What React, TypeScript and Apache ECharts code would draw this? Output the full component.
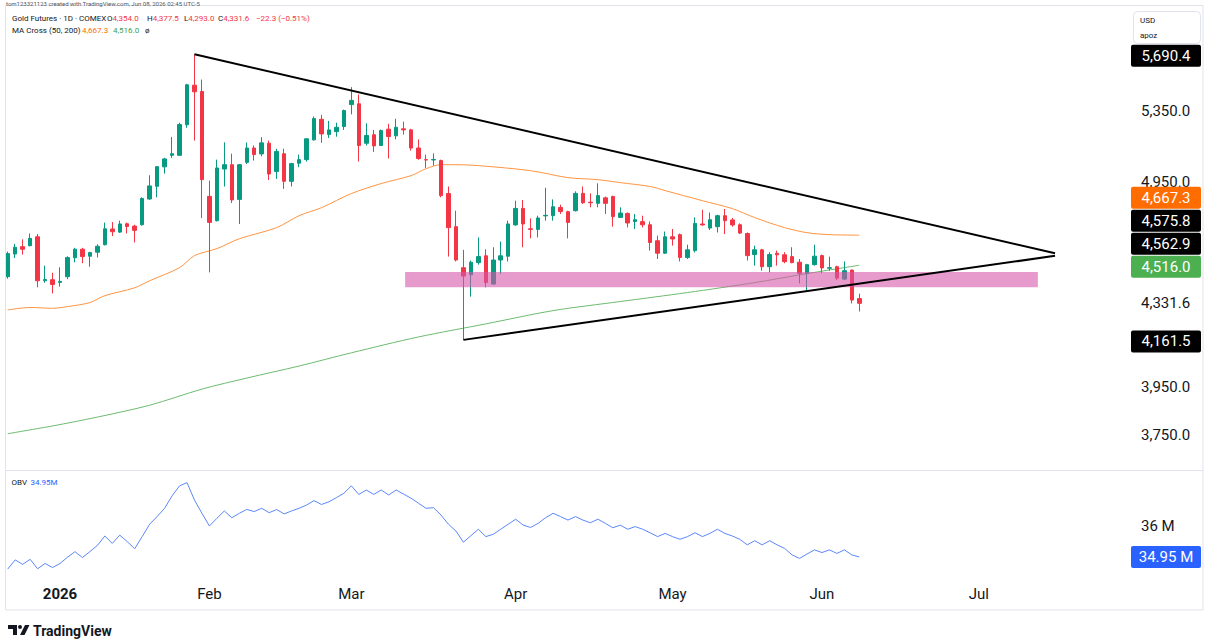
import React, { useEffect, useRef } from "react";
import * as echarts from "echarts";

// ---------------- data ----------------
// bar index 0 = 2025-12-22 ... index 114 = 2026-06-08 (daily trading sessions)
const OPEN = [
  4460, 4572, 4609, 4614, 4659, 4440, 4445, 4432, 4460, 4553,
  4596, 4561, 4581, 4619, 4699, 4683, 4726, 4714, 4721, 4856,
  4924, 5030, 5094, 5094, 5267, 5501, 5463, 4870, 4742, 5018,
  5042, 4854, 5055, 5135, 5102, 5162, 5005, 5103, 4951, 5050,
  5070, 5181, 5299, 5211, 5228, 5257, 5385, 5390, 5162, 5210,
  5149, 5242, 5204, 5244, 5238, 5135, 5070, 5068, 5065, 4885,
  4711, 4504, 4469, 4529, 4563, 4424, 4542, 4561, 4720, 4806,
  4700, 4697, 4767, 4768, 4811, 4789, 4794, 4886, 4839, 4833,
  4862, 4869, 4759, 4780, 4738, 4737, 4721, 4639, 4576, 4659,
  4670, 4555, 4589, 4725, 4704, 4711, 4768, 4746, 4721, 4676,
  4569, 4593, 4509, 4576, 4568, 4559, 4531, 4476, 4519, 4564,
  4501, 4509, 4448, 4492, 4354.0,
];
const HIGH = [
  4584, 4623, 4646, 4676, 4673, 4514, 4479, 4506, 4561, 4603,
  4603, 4583, 4621, 4732, 4735, 4742, 4732, 4721, 4865, 4984,
  5035, 5080, 5198, 5279, 5509, 5690.4, 5535, 4955, 5070, 5167,
  5103, 5046, 5166, 5149, 5196, 5177, 5130, 5131, 5052, 5098,
  5190, 5315, 5325, 5290, 5279, 5356, 5489, 5445, 5276, 5238,
  5240, 5273, 5302, 5285, 5244, 5184, 5098, 5105, 5070, 4923,
  4794, 4593, 4539, 4656, 4596, 4606, 4635, 4742, 4847, 4851,
  4754, 4768, 4916, 4854, 4826, 4794, 4897, 4923, 4886, 4940,
  4869, 4874, 4812, 4785, 4777, 4768, 4738, 4665, 4686, 4699,
  4676, 4619, 4759, 4799, 4785, 4773, 4803, 4756, 4728, 4681,
  4614, 4598, 4581, 4589, 4581, 4606, 4547, 4523, 4619, 4569,
  4559, 4514, 4535, 4495, 4377.5,
];
const LOW = [
  4450, 4552, 4569, 4610, 4408, 4430, 4379, 4411, 4448, 4531,
  4526, 4509, 4555, 4615, 4663, 4678, 4676, 4630, 4716, 4852,
  4865, 4993, 5080, 5092, 5250, 5177, 4756, 4481, 4738, 4923,
  4835, 4725, 5046, 5065, 5089, 4958, 4964, 4910, 4923, 5028,
  5059, 5177, 5164, 5192, 5199, 5238, 5328, 5060, 5149, 5113,
  5147, 5076, 5184, 5211, 5120, 5069, 5024, 5037, 4865, 4559,
  4535, 4161.5, 4363, 4519, 4408, 4421, 4473, 4535, 4716, 4606,
  4651, 4656, 4742, 4742, 4777, 4651, 4790, 4830, 4812, 4812,
  4777, 4711, 4756, 4707, 4699, 4707, 4589, 4547, 4573, 4614,
  4535, 4547, 4580, 4716, 4694, 4681, 4673, 4711, 4673, 4539,
  4514, 4489, 4481, 4514, 4526, 4526, 4427, 4389, 4514, 4476,
  4489, 4443, 4443, 4331, 4293.0,
];
const CLOSE = [
  4574, 4606, 4596, 4651, 4440, 4446, 4422, 4437, 4554, 4596,
  4559, 4579, 4611, 4700, 4685, 4725, 4712, 4692, 4859, 4926,
  5031, 5074, 5103, 5269, 5503, 5461, 4960, 4733, 5024, 5042,
  4851, 5042, 5135, 5098, 5164, 4991, 5116, 4951, 5048, 5070,
  5187, 5303, 5215, 5238, 5253, 5350, 5410, 5149, 5206, 5147,
  5234, 5200, 5253, 5238, 5135, 5076, 5068, 5071, 4874, 4706,
  4542, 4463, 4531, 4559, 4432, 4542, 4563, 4725, 4806, 4725,
  4697, 4756, 4770, 4815, 4790, 4733, 4886, 4836, 4836, 4874,
  4833, 4763, 4782, 4730, 4747, 4721, 4630, 4576, 4659, 4648,
  4555, 4593, 4728, 4720, 4747, 4768, 4742, 4720, 4678, 4564,
  4593, 4509, 4569, 4568, 4534, 4529, 4476, 4519, 4561, 4503,
  4504, 4453, 4489, 4347, 4331.6,
];

// moving averages, read at selected bars: [bar index, price]
const MA50_POINTS = [
  [0, 4300], [3, 4312], [6, 4308], [8, 4316], [11, 4335], [13, 4368], [17, 4406],
  [19, 4440], [23, 4504], [25, 4564], [28, 4599], [31, 4649], [36, 4706], [39, 4768],
  [42, 4810], [46, 4885], [50, 4939], [54, 4982], [56, 5020], [58, 5042], [60, 5042],
  [63, 5037], [70, 5009], [75, 4971], [79, 4960], [82, 4944], [86, 4923], [88, 4901],
  [93, 4847], [97, 4805], [100, 4758], [104, 4706], [107, 4680], [110, 4670], [114, 4667.3],
];
const MA200_POINTS = [
  [0, 3755], [6, 3787], [12, 3824], [19, 3874], [26, 3943], [32, 3991], [39, 4044],
  [46, 4103], [55, 4175], [64, 4235], [73, 4297], [82, 4340], [91, 4383], [100, 4431],
  [107, 4475], [114, 4516.0],
];

// On Balance Volume, millions
const OBV_M = [
  34.54, 34.85, 34.70, 34.87, 34.55, 34.73, 34.59, 34.73, 34.94, 35.13,
  34.93, 35.13, 35.34, 35.66, 35.41, 35.69, 35.47, 35.23, 35.64, 36.06,
  36.32, 36.60, 37.02, 37.36, 37.47, 36.88, 36.43, 36.00, 36.26, 36.51,
  36.28, 36.43, 36.56, 36.49, 36.60, 36.45, 36.56, 36.41, 36.51, 36.60,
  36.71, 36.86, 36.73, 36.82, 36.96, 37.11, 37.36, 37.07, 37.22, 37.07,
  37.22, 37.05, 37.22, 37.08, 36.94, 36.77, 36.60, 36.62, 36.37, 36.06,
  35.83, 35.45, 35.67, 35.89, 35.64, 35.72, 35.89, 36.06, 36.23, 36.03,
  35.95, 36.09, 36.28, 36.43, 36.32, 36.20, 36.32, 36.20, 36.11, 36.23,
  36.09, 35.94, 36.03, 35.89, 35.98, 35.89, 35.77, 35.64, 35.75, 35.64,
  35.55, 35.64, 35.77, 35.64, 35.75, 35.89, 35.75, 35.66, 35.55, 35.36,
  35.50, 35.36, 35.50, 35.36, 35.24, 35.02, 34.90, 35.05, 35.19, 35.10,
  35.19, 35.07, 35.19, 35.02, 34.95,
];

// time axis: bar index of the first session of each month, and its label
const TIME_TICK_INDEX = [7, 27, 46, 68, 89, 109, 130];
const TIME_TICK_LABEL = ["2026", "Feb", "Mar", "Apr", "May", "Jun", "Jul"];
const X_RANGE = [-0.23, 149.7];

// price scale (logarithmic)
const PRICE_TICKS = [3750, 3950, 4331.6, 4950, 5350];
const PRICE_RANGE = [3608.6, 5999.4];
const OBV_TICKS = [36];
const OBV_RANGE = [34.237, 37.864];

// drawings: [bar index, price]
const UPPER_TREND = [[25, 5690.4], [140.2, 4575.8]];
const LOWER_TREND = [[61, 4161.5], [140.2, 4562.9]];
// zone: [from bar, to bar, top price, bottom price]
const ZONE = [[53.2, 137.9, 4483, 4408]];

const PRICE_BADGES = [
  { value: 5690.4, color: "#000000" },
  { value: 4667.3, color: "#FF6D00" },
  { value: 4575.8, color: "#000000" },
  { value: 4562.9, color: "#000000" },
  { value: 4516.0, color: "#4CAF50" },
  { value: 4161.5, color: "#000000" },
];
const OBV_BADGE = { value: 34.95, color: "#2962FF" };

// ---------------------------------------------------------------
echarts.graphic.registerShape(
  "tvlogo",
  echarts.graphic.extendPath(
    "M0 0H9V10H5V4H0Z M10 2A2 2 0 1 0 14 2A2 2 0 1 0 10 2Z M17 0H21.5L16.5 10H12Z",
    {}
  )
);

const FONT = "Roboto, 'Noto Sans', sans-serif";
const INK = "#131722";
const UP = "#089981";
const DOWN = "#F23645";

const fmt = (v: number, d = 1) =>
  v.toLocaleString("en-US", { minimumFractionDigits: d, maximumFractionDigits: d });

function txt(x: number, y: number, text: string, fill: string, size: number, extra: any = {}) {
  return {
    type: "text",
    x,
    y,
    z: 100,
    silent: true,
    style: {
      text,
      fill,
      fontSize: size,
      fontFamily: FONT,
      align: "left",
      verticalAlign: "middle",
      textAlign: "left",
      textVerticalAlign: "middle",
      ...extra,
    },
  };
}

const kv = (k: string, v: string) => ({
  text: `{k|${k}}{v|${v}}`,
  rich: {
    k: { fill: INK, fontSize: 8, fontFamily: FONT },
    v: { fill: DOWN, fontSize: 8, fontFamily: FONT },
  },
});

export default function App() {
  const ref = useRef<HTMLDivElement>(null);

  useEffect(() => {
    const chart = echarts.init(ref.current as HTMLDivElement, null, { renderer: "svg" });
    const ln = Math.log;

    const candles = OPEN.map((o, i) => [i, ln(o), ln(CLOSE[i]), ln(LOW[i]), ln(HIGH[i])]);

    chart.setOption({
      animation: false,
      backgroundColor: "#ffffff",
      grid: [
        { left: 6, top: 6, width: 1120, height: 464 },
        { left: 6, top: 471, width: 1120, height: 107 },
      ],
      xAxis: [
        { type: "value", gridIndex: 0, min: X_RANGE[0], max: X_RANGE[1], show: false },
        {
          type: "value",
          gridIndex: 1,
          min: X_RANGE[0],
          max: X_RANGE[1],
          axisLine: { show: false },
          axisTick: { show: false },
          splitLine: { show: false },
          axisLabel: {
            customValues: TIME_TICK_INDEX,
            margin: 8,
            formatter: (v: number) => {
              const k = TIME_TICK_INDEX.indexOf(v);
              const s = k >= 0 ? TIME_TICK_LABEL[k] : "";
              return k === 0 ? `{b|${s}}` : `{n|${s}}`;
            },
            rich: {
              b: { fontWeight: "bold", fontSize: 15, color: INK, fontFamily: FONT },
              n: { fontSize: 15, color: INK, fontFamily: FONT },
            },
          },
        },
      ],
      yAxis: [
        {
          type: "value",
          gridIndex: 0,
          position: "right",
          min: ln(PRICE_RANGE[0]),
          max: ln(PRICE_RANGE[1]),
          axisLine: { show: false },
          axisTick: { show: false },
          splitLine: { show: false },
          axisLabel: {
            customValues: PRICE_TICKS.map((p) => ln(p)),
            formatter: (v: number) => fmt(Math.exp(v)),
            margin: 15,
            color: INK,
            fontSize: 15,
            fontFamily: FONT,
          },
        },
        {
          type: "value",
          gridIndex: 1,
          position: "right",
          min: OBV_RANGE[0],
          max: OBV_RANGE[1],
          axisLine: { show: false },
          axisTick: { show: false },
          splitLine: { show: false },
          axisLabel: {
            customValues: OBV_TICKS,
            formatter: (v: number) => `${v} M`,
            margin: 15,
            color: INK,
            fontSize: 15,
            fontFamily: FONT,
          },
        },
      ],
      series: [
        {
          type: "candlestick",
          xAxisIndex: 0,
          yAxisIndex: 0,
          data: candles,
          encode: { x: 0, y: [1, 2, 3, 4] },
          barWidth: 4,
          z: 2,
          silent: true,
          itemStyle: {
            color: UP,
            color0: DOWN,
            borderColor: UP,
            borderColor0: DOWN,
            borderWidth: 1,
          },
        },
        {
          type: "line",
          name: "MA50",
          xAxisIndex: 0,
          yAxisIndex: 0,
          data: MA50_POINTS.map(([i, p]) => [i, ln(p)]),
          symbol: "none",
          smooth: 0.3,
          z: 2,
          silent: true,
          lineStyle: { color: "#FF9442", width: 1 },
        },
        {
          type: "line",
          name: "MA200",
          xAxisIndex: 0,
          yAxisIndex: 0,
          data: MA200_POINTS.map(([i, p]) => [i, ln(p)]),
          symbol: "none",
          smooth: 0.3,
          z: 2,
          silent: true,
          lineStyle: { color: "#6DBB70", width: 1 },
        },
        {
          type: "custom",
          xAxisIndex: 0,
          yAxisIndex: 0,
          z: 3,
          silent: true,
          data: ZONE.map(([a, b, t, bt]) => [a, b, ln(t), ln(bt)]),
          encode: { x: [0, 1], y: [2, 3] },
          renderItem: (_p: any, api: any) => {
            const a = api.coord([api.value(0), api.value(2)]);
            const b = api.coord([api.value(1), api.value(3)]);
            return {
              type: "rect",
              shape: { x: a[0], y: a[1], width: b[0] - a[0], height: b[1] - a[1] },
              style: { fill: "rgba(215,87,170,0.6)" },
            };
          },
        },
        {
          type: "line",
          xAxisIndex: 0,
          yAxisIndex: 0,
          data: UPPER_TREND.map(([i, p]) => [i, ln(p)]),
          symbol: "none",
          z: 4,
          silent: true,
          lineStyle: { color: "#000000", width: 2 },
        },
        {
          type: "line",
          xAxisIndex: 0,
          yAxisIndex: 0,
          data: LOWER_TREND.map(([i, p]) => [i, ln(p)]),
          symbol: "none",
          z: 4,
          silent: true,
          lineStyle: { color: "#000000", width: 2 },
        },
        {
          type: "line",
          name: "OBV",
          xAxisIndex: 1,
          yAxisIndex: 1,
          data: OBV_M.map((v, i) => [i, v]),
          symbol: "none",
          z: 2,
          silent: true,
          lineStyle: { color: "#5B87FA", width: 1 },
        },
      ],
    });

    // ---- price / indicator badges on the right scale (stacked like TradingView) ----
    const H = 23;
    const NUDGE = 1.5;
    const items = PRICE_BADGES.map((b) => ({
      ...b,
      y:
        (chart.convertToPixel({ xAxisIndex: 0, yAxisIndex: 0 }, [0, ln(b.value)]) as number[])[1] +
        NUDGE,
      cy: 0,
    })).sort((a, b) => b.y - a.y);
    let prev = Infinity;
    for (const it of items) {
      it.cy = Math.min(it.y, prev - H);
      prev = it.cy;
    }
    const obvY = (chart.convertToPixel({ xAxisIndex: 1, yAxisIndex: 1 }, [0, OBV_BADGE.value]) as number[])[1];

    const badge = (cy: number, color: string, text: string) => [
      {
        type: "rect",
        z: 99,
        silent: true,
        shape: { x: 1131, y: cy - 11, width: 70, height: 22, r: 2 },
        style: { fill: color },
      },
      {
        type: "text",
        x: 1166,
        y: cy,
        z: 100,
        silent: true,
        style: {
          text,
          fill: "#ffffff",
          fontSize: 15,
          fontFamily: FONT,
          align: "center",
          verticalAlign: "middle",
          textAlign: "center",
          textVerticalAlign: "middle",
        },
      },
    ];

    const elements: any[] = [
      // frame
      {
        type: "rect",
        z: 50,
        silent: true,
        shape: { x: 5.5, y: 5.5, width: 1197.5, height: 604.5 },
        style: { fill: "none", stroke: "#E0E3EB", lineWidth: 1 },
      },
      {
        type: "line",
        z: 50,
        silent: true,
        shape: { x1: 5.5, y1: 470.5, x2: 1203, y2: 470.5 },
        style: { stroke: "#E0E3EB", lineWidth: 1 },
      },
      // snapshot caption at the top edge
      txt(6, 3, "tom123321123 created with TradingView.com, Jun 08, 2026 02:45 UTC-5", "#50535E", 6),
      // legend, line 1
      txt(12, 18.5, "Gold Futures · 1D · COMEX", INK, 8),
      txt(107, 18.5, "", INK, 8, kv("O", "4,354.0")),
      txt(147, 18.5, "", INK, 8, kv("H", "4,377.5")),
      txt(184, 18.5, "", INK, 8, kv("L", "4,293.0")),
      txt(218, 18.5, "", INK, 8, kv("C", "4,331.6")),
      txt(256, 18.5, "−22.3 (−0.51%)", DOWN, 8),
      // legend, line 2
      txt(12, 30, "MA Cross (50, 200)", INK, 8),
      txt(82, 30, "4,667.3", "#FF6D00", 8),
      txt(113, 30, "4,516.0", "#43A047", 8),
      txt(145, 30, "ø", INK, 8),
      // OBV legend
      txt(11.5, 482.5, "OBV", INK, 8),
      txt(30.5, 482.5, "34.95M", "#2962FF", 8),
      // currency / unit box
      {
        type: "rect",
        z: 60,
        silent: true,
        shape: { x: 1133.5, y: 11.5, width: 67, height: 32, r: 4 },
        style: { fill: "#ffffff", stroke: "#E0E3EB", lineWidth: 1 },
      },
      txt(1140, 20, "USD", INK, 8),
      txt(1140, 35, "apoz", INK, 8),
      // TradingView logo
      { type: "tvlogo", x: 8, y: 625, z: 100, silent: true, style: { fill: INK } },
      txt(33, 630.5, "TradingView", INK, 14, { fontWeight: "bold" }),
    ];
    for (const it of items) elements.push(...badge(it.cy, it.color, fmt(it.value)));
    elements.push(...badge(obvY, OBV_BADGE.color, `${fmt(OBV_BADGE.value, 2)} M`));

    chart.setOption({ graphic: { elements } });

    return () => chart.dispose();
  }, []);

  return (
    <div
      ref={ref}
      style={{ position: "fixed", left: 0, top: 0, width: 1210, height: 642, background: "#ffffff" }}
    />
  );
}
